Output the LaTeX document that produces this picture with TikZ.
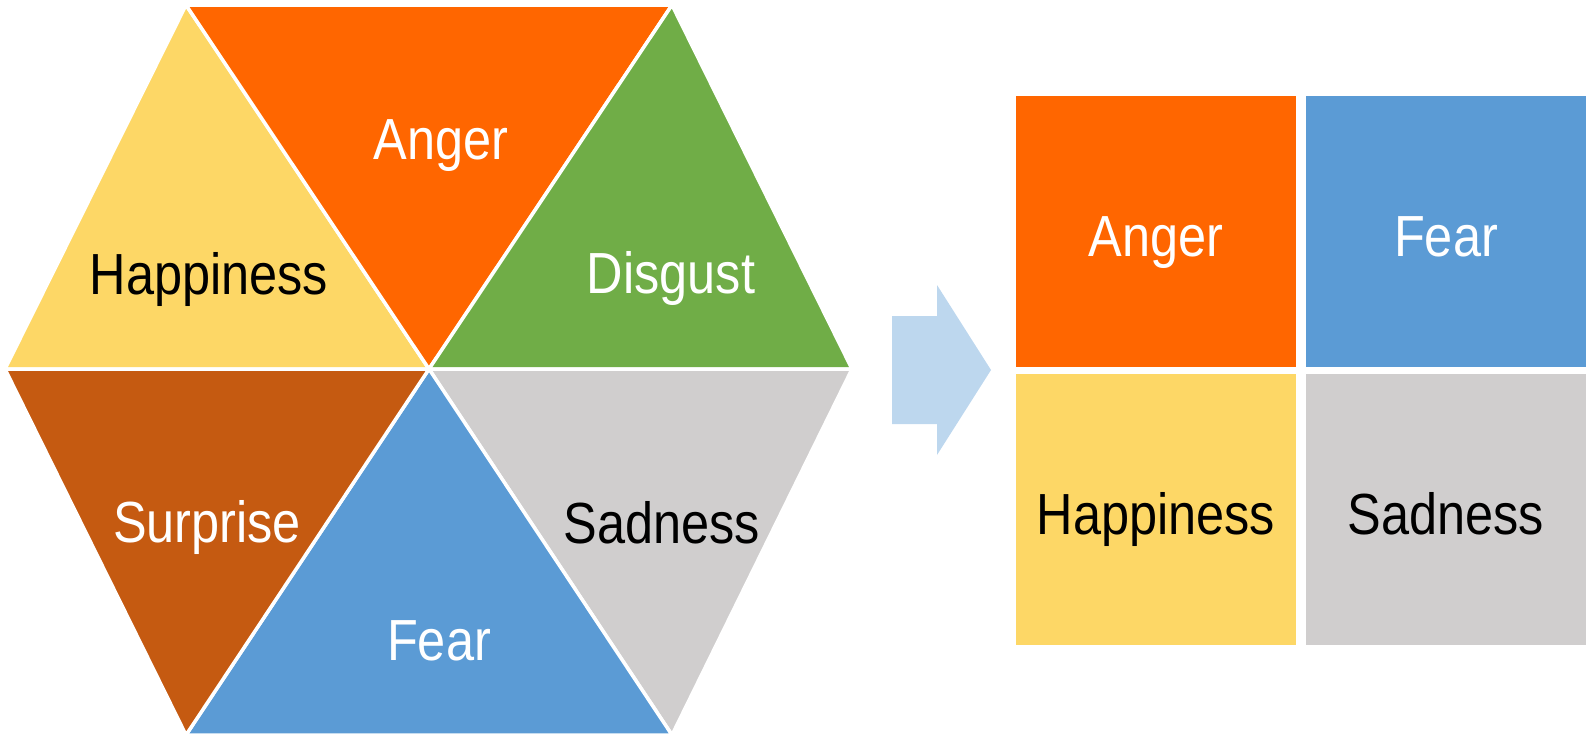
\documentclass[tikz,border=0pt]{standalone}
\usepackage{fontspec}
\setmainfont{Liberation Sans}[FakeStretch=0.87]
\usepackage{tikz}

\definecolor{AngerOrange}{HTML}{FF6600}
\definecolor{HappyYellow}{HTML}{FDD766}
\definecolor{DisgustGreen}{HTML}{70AD47}
\definecolor{SurpriseBrown}{HTML}{C55A11}
\definecolor{FearBlue}{HTML}{5B9BD5}
\definecolor{SadGray}{HTML}{D0CECE}
\definecolor{ArrowBlue}{HTML}{BDD7EE}

\tikzset{
  wedge/.style={draw=white,line width=3.5pt,line join=round},
  emo/.style={anchor=base,inner sep=0pt,font=\fontsize{58}{60}\selectfont},
  tile/.style={minimum width=280pt,minimum height=271pt,inner sep=0pt,
               text height=49pt,text depth=0pt,font=\fontsize{58}{60}\selectfont}
}

\begin{document}
\begin{tikzpicture}[x=1pt,y=-1pt]
  \useasboundingbox (0,0) rectangle (1590,742);

  \coordinate (mid) at (429,369);
  \coordinate (west) at (5,369);
  \coordinate (east) at (852,369);
  \coordinate (nw) at (186,5);
  \coordinate (ne) at (672,5);
  \coordinate (sw) at (186,735);
  \coordinate (se) at (672,735);

  \filldraw[wedge,fill=HappyYellow]   (west) -- (nw) -- (mid) -- cycle;
  \filldraw[wedge,fill=AngerOrange]   (nw) -- (ne) -- (mid) -- cycle;
  \filldraw[wedge,fill=DisgustGreen]  (ne) -- (east) -- (mid) -- cycle;
  \filldraw[wedge,fill=SadGray]       (mid) -- (east) -- (se) -- cycle;
  \filldraw[wedge,fill=FearBlue]      (mid) -- (se) -- (sw) -- cycle;
  \filldraw[wedge,fill=SurpriseBrown] (west) -- (mid) -- (sw) -- cycle;

  \node[emo,text=white] (hexanger)    at (441,159) {Anger};
  \node[emo]            (hexhappy)    at (209,294) {Happiness};
  \node[emo,text=white] (hexdisgust)  at (671,293) {Disgust};
  \node[emo,text=white] (hexsurprise) at (207,542) {Surprise};
  \node[emo]            (hexsad)      at (662,543) {Sadness};
  \node[emo,text=white] (hexfear)     at (439,660) {Fear};

  \fill[ArrowBlue] (892,316) -- (937,316) -- (937,285) -- (991,370)
                   -- (937,455) -- (937,424) -- (892,424) -- cycle;

  \node[tile,fill=AngerOrange,text=white] (sqanger) at (1156,231.5) {Anger};
  \node[tile,fill=FearBlue,text=white]    (sqfear)  at (1446,231.5) {Fear};
  \node[tile,fill=HappyYellow]            (sqhappy) at (1156,509.5) {Happiness};
  \node[tile,fill=SadGray]                (sqsad)   at (1446,509.5) {Sadness};
\end{tikzpicture}
\end{document}
